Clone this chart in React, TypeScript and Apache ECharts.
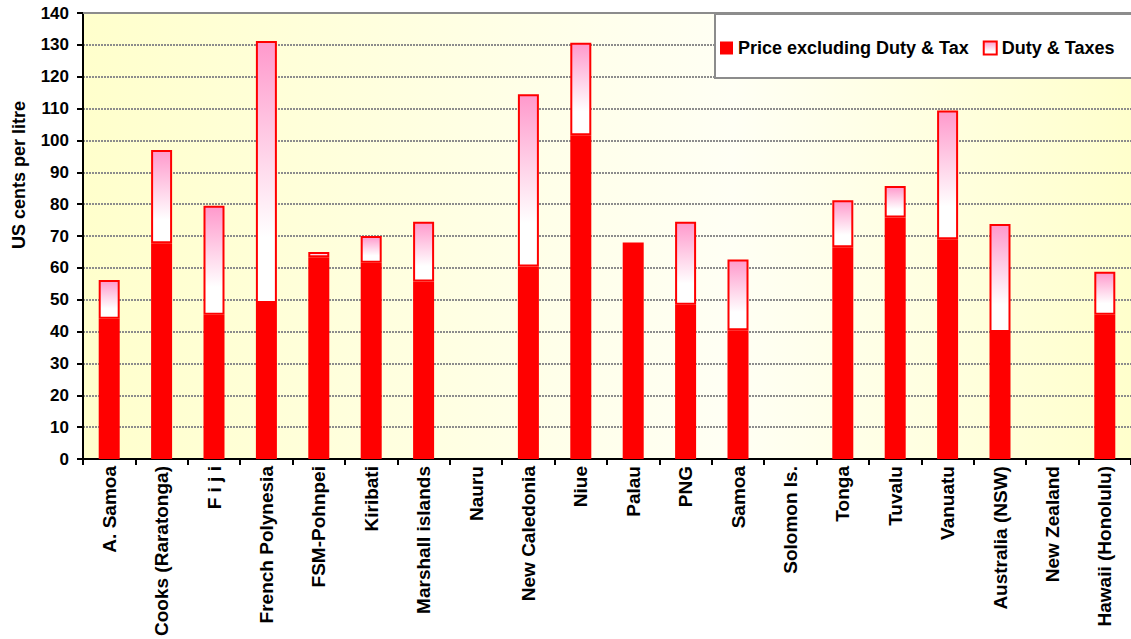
import React, { useEffect, useRef } from "react";
import * as echarts from "echarts";

const categories = [
  "A. Samoa", "Cooks (Raratonga)", "F i j i", "French Polynesia", "FSM-Pohnpei",
  "Kiribati", "Marshall islands", "Nauru", "New Caledonia", "Niue", "Palau", "PNG",
  "Samoa", "Solomon Is.", "Tonga", "Tuvalu", "Vanuatu", "Australia (NSW)",
  "New Zealand", "Hawaii (Honolulu)",
];

const priceExDuty = [
  44, 67.7, 45.3, 49, 63.3, 61.6, 55.7, null, 60.4, 101.6, 68, 48.4,
  40.4, null, 66.5, 75.8, 69, 39.9, null, 45.3,
];

const dutyTaxes = [
  12.2, 29.3, 34.2, 82.2, 1.7, 8.4, 18.8, null, 54.1, 29.1, null, 26.1,
  22.2, null, 14.7, 9.9, 40.4, 33.9, null, 13.5,
];

const FONT = "Arial, 'Liberation Sans', sans-serif";

export default function App() {
  const ref = useRef<HTMLDivElement>(null);
  useEffect(() => {
    if (!ref.current) return;
    const chart = echarts.init(ref.current, null, { renderer: "svg" });
    const dutyFill = new echarts.graphic.LinearGradient(0, 0, 0, 1, [
      { offset: 0, color: "#FF99CC" },
      { offset: 0.75, color: "#FFFFFF" },
      { offset: 1, color: "#FFFFFF" },
    ]);
    const plotBg = new echarts.graphic.LinearGradient(0, 0, 1, 0, [
      { offset: 0, color: "#FFFFCC" },
      { offset: 0.62, color: "#FFFFF4" },
      { offset: 1, color: "#FFFFCC" },
    ]);
    chart.setOption({
      animation: false,
      backgroundColor: "#FFFFFF",
      textStyle: { fontFamily: FONT },
      grid: {
        left: 83,
        right: 0,
        top: 13,
        bottom: 177,
        show: true,
        backgroundColor: plotBg,
        borderWidth: 0,
      },
      legend: {
        left: 720,
        top: 38,
        width: 600,
        orient: "horizontal",
        padding: 0,
        itemWidth: 13,
        itemHeight: 13,
        itemGap: 14,
        icon: "rect",
        z: 10,
        textStyle: {
          fontFamily: FONT,
          fontWeight: "bold",
          fontSize: 18,
          color: "#000",
          lineHeight: 20,
        },
        data: ["Price excluding Duty & Tax", "Duty & Taxes"],
      },
      graphic: [
        {
          type: "rect",
          z: 8,
          shape: { x: 715, y: 14, width: 430, height: 64 },
          style: { fill: "#FFFFFF", stroke: "#8C8C8C", lineWidth: 2 },
        },
        {
          type: "text",
          x: 19,
          y: 175,
          rotation: Math.PI / 2,
          style: {
            text: "US cents per litre",
            font: `bold 18px ${FONT}`,
            fill: "#000",
            align: "center",
            verticalAlign: "middle",
          },
        },
      ],
      xAxis: [
        {
          type: "category",
          data: categories,
          axisLine: { lineStyle: { color: "#000", width: 2 } },
          axisTick: { show: true, alignWithLabel: false, length: 6, lineStyle: { color: "#000", width: 2 } },
          axisLabel: {
            rotate: 90,
            interval: 0,
            margin: 7,
            color: "#000",
            fontFamily: FONT,
            fontWeight: "bold",
            fontSize: 19,
          },
          splitLine: { show: false },
        },
        {
          type: "category",
          position: "top",
          data: categories,
          axisLine: { show: true, lineStyle: { color: "#8C8C8C", width: 2 } },
          axisTick: { show: false },
          axisLabel: { show: false },
          splitLine: { show: false },
        },
      ],
      yAxis: {
        type: "value",
        min: 0,
        max: 140,
        interval: 10,
        axisLine: { show: true, lineStyle: { color: "#000", width: 2 } },
        axisTick: { show: true, length: 6, lineStyle: { color: "#000", width: 2 } },
        axisLabel: {
          margin: 14,
          color: "#000",
          fontFamily: FONT,
          fontWeight: "bold",
          fontSize: 17,
        },
        splitLine: {
          show: true,
          lineStyle: { color: "#8C8C8C", width: 2, type: [2, 1] },
        },
      },
      series: [
        {
          name: "Price excluding Duty & Tax",
          type: "bar",
          stack: "total",
          barWidth: 21,
          data: priceExDuty,
          itemStyle: { color: "#FF0000", borderColor: "#FF0000", borderWidth: 0 },
        },
        {
          name: "Duty & Taxes",
          type: "bar",
          stack: "total",
          barWidth: 21,
          data: dutyTaxes,
          itemStyle: { color: dutyFill, borderColor: "#FF0000", borderWidth: 2 },
        },
      ],
    });
    return () => chart.dispose();
  }, []);
  return (
    <div
      ref={ref}
      style={{ position: "fixed", left: 0, top: 0, width: 1131, height: 639 }}
    />
  );
}
